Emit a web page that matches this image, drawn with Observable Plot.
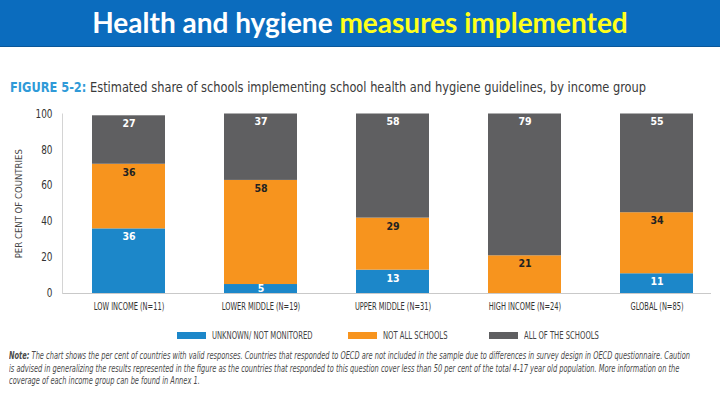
<!DOCTYPE html>
<html>
<head>
<meta charset="utf-8">
<script src="https://cdn.jsdelivr.net/npm/d3@7"></script>
<script src="https://cdn.jsdelivr.net/npm/@observablehq/plot@0.6"></script>
<style>
  html, body { margin: 0; padding: 0; background: #fff; }
  body { width: 720px; height: 404px; position: relative; overflow: hidden; }
  .cond { font-family: "Liberation Sans Narrow", "DejaVu Sans Condensed", Roboto, sans-serif; font-stretch: condensed; }
  #banner { position: absolute; left: 0; top: 0; width: 720px; height: 46px; background: #0b6cbe; border-bottom: 1px solid #0a5799;
    text-align: center; font-family: Lato, "Open Sans", sans-serif; font-weight: bold; font-size: 28px; line-height: 44px; color: #fff; }
  #banner .hl { color: #ffff1a; }
  .fitline { position: absolute; white-space: nowrap; transform-origin: 0 50%; }
  #ftitle { left: 10px; top: 79px; font-size: 14px; color: #3a3a3a; }
  #ftitle .fig { color: #2f9ad8; font-weight: bold; }
  #chart { position: absolute; left: 0; top: 100px; }
  .li { position: absolute; top: 329px; height: 14px; }
  .sw { position: absolute; left: 0; top: 3px; width: 29px; height: 7px; }
  .lt { position: absolute; left: 35px; top: 0; font-size: 10px; color: #444; line-height: 14px; white-space: nowrap; transform-origin: 0 50%; }
  .nl { left: 9px; font-size: 10px; line-height: 12.6px; color: #4a4a4a; font-style: italic; }
  .nl span { display: inline-block; }
</style>
</head>
<body>
<div id="banner">Health and hygiene <span class="hl">measures implemented</span></div>
<div id="ftitle" class="cond fitline"><span class="fig">FIGURE 5-2:</span> <span>Estimated share of schools implementing school health and hygiene guidelines, by income group</span></div>
<div id="chart"></div>
<div id="legend" class="cond"></div>
<div id="note1" class="cond fitline nl" style="top:350px"><span><b>Note:</b></span>&nbsp;<span>The chart shows the per cent of countries with valid responses. Countries that responded to OECD are not included in the sample due to differences in survey design in OECD questionnaire. Caution</span></div>
<div id="note2" class="cond fitline nl" style="top:362.6px"><span>is advised in generalizing the results represented in the figure as the countries that responded to this question cover less than 50 per cent of the total 4-17 year old population. More information on the</span></div>
<div id="note3" class="cond fitline nl" style="top:375.2px"><span>coverage of each income group can be found in Annex 1.</span></div>
<script>
const groups = ["LOW INCOME (N=11)", "LOWER MIDDLE (N=19)", "UPPER MIDDLE (N=31)", "HIGH INCOME (N=24)", "GLOBAL (N=85)"];
const seriesNames = ["UNKNOWN/ NOT MONITORED", "NOT ALL SCHOOLS", "ALL OF THE SCHOOLS"];
const unknownVals = [36, 5, 13, 0, 11];
const notAllVals = [36, 58, 29, 21, 34];
const allVals = [27, 37, 58, 79, 55];
const seriesColors = ["#1c87c9", "#f7941e", "#5f5f61"];
const yTicks = [0, 20, 40, 60, 80, 100];

const valuesBySeries = [unknownVals, notAllVals, allVals];
const rows = [];
groups.forEach((g, i) => {
  let base = 0;
  seriesNames.forEach((s, j) => {
    const v = valuesBySeries[j][i];
    rows.push({group: g, series: s, value: v, base: base});
    base += v;
  });
});
// label sits just below the top of its segment (or mid-segment for thin ones)
const labelY = d => d.base + d.value - Math.min(4.5, d.value / 2);

const font = '"Liberation Sans Narrow", "DejaVu Sans Condensed", Roboto, sans-serif';
const stackOpts = {x: "group", y: "value", z: "series", order: seriesNames};

const chart = Plot.plot({
  width: 720,
  height: 222,
  marginLeft: 62,
  marginRight: 9,
  marginTop: 13.5,
  marginBottom: 29,
  style: {fontFamily: font, fontStretch: "condensed", background: "transparent", overflow: "visible"},
  x: {domain: groups, range: [62, 723], paddingInner: 0.447, paddingOuter: 0.227, label: null},
  y: {domain: [0, 100], label: null},
  color: {domain: seriesNames, range: seriesColors},
  marks: [
    Plot.barY(rows, Plot.stackY({...stackOpts, fill: "series"})),
    Plot.text(rows.filter(d => d.value > 0 && d.series !== seriesNames[1]), {x: "group", y: labelY, text: d => String(d.value),
      fill: "white", fontWeight: "bold", fontSize: 10.5, ariaLabel: "barlabel"}),
    Plot.text(rows.filter(d => d.value > 0 && d.series === seriesNames[1]), {x: "group", y: labelY, text: d => String(d.value),
      fill: "#222", fontWeight: "bold", fontSize: 10.5, ariaLabel: "barlabel"}),
    Plot.ruleY([0], {stroke: "#c9c9c9", strokeWidth: 1}),
    Plot.frame({anchor: "left", stroke: "#d4d4d4"}),
    Plot.axisY({ticks: yTicks, tickSize: 0, tickPadding: 10, fontSize: 11.5, color: "#333", label: null}),
    Plot.axisX({tickSize: 0, tickPadding: 9, fontSize: 10, color: "#333", label: null}),
    Plot.text(["PER CENT OF COUNTRIES"], {frameAnchor: "left", textAnchor: "middle", dx: -44, dy: 0, rotate: -90, fontSize: 9.5, fill: "#444", ariaLabel: "ytitle"})
  ]
});
document.getElementById("chart").appendChild(chart);

// narrow the SVG texts horizontally (textLength) to mimic the condensed typeface
function condense(sel, s, target) {
  chart.querySelectorAll(sel).forEach(g => {
    g.querySelectorAll("text").forEach(t => {
      const len = t.getComputedTextLength();
      if (len > 0) {
        t.setAttribute("textLength", (target ? target : len * s).toFixed(2));
        t.setAttribute("lengthAdjust", "spacingAndGlyphs");
      }
    });
  });
}
condense('g[aria-label="x-axis tick label"]', 0.74);
condense('g[aria-label="y-axis tick label"]', 0.86);
condense('g[aria-label="barlabel"]', 0.72);
condense('g[aria-label="ytitle"]', 0, 86);

// legend
const legendX = [177, 348, 489];
const legend = document.getElementById("legend");
seriesNames.forEach((s, i) => {
  const item = document.createElement("div");
  item.className = "li";
  item.style.left = legendX[i] + "px";
  const sw = document.createElement("span");
  sw.className = "sw"; sw.style.background = seriesColors[i];
  const lt = document.createElement("span");
  lt.className = "lt"; lt.textContent = s; lt.style.transform = "scaleX(0.76)";
  item.appendChild(sw); item.appendChild(lt);
  legend.appendChild(item);
});

function fit(el, target) {
  const w = el.getBoundingClientRect().width;
  const s = target / w;
  el.style.transform = `scaleX(${s})`;
  return s;
}
fit(document.getElementById("ftitle"), 636);
const ns = fit(document.getElementById("note1"), 681);
document.getElementById("note2").style.transform = `scaleX(${ns})`;
document.getElementById("note3").style.transform = `scaleX(${ns})`;
</script>
</body>
</html>
